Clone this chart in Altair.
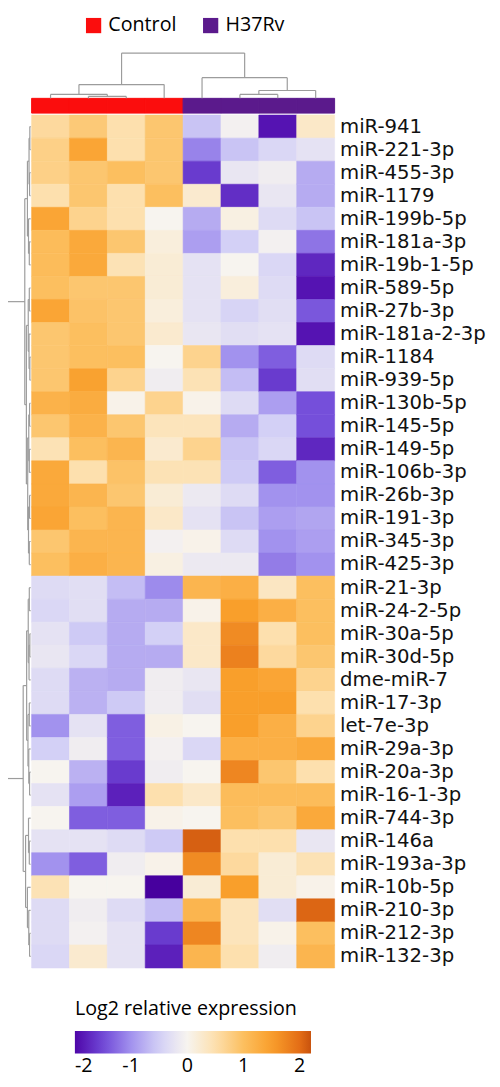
import altair as alt
import pandas as pd

# ---------------- data ----------------
samples = ["C1", "C2", "C3", "C4", "H1", "H2", "H3", "H4"]
groups = ["Control", "Control", "Control", "Control", "H37Rv", "H37Rv", "H37Rv", "H37Rv"]

mirnas = ["miR-941", "miR-221-3p", "miR-455-3p", "miR-1179", "miR-199b-5p", "miR-181a-3p",
          "miR-19b-1-5p", "miR-589-5p", "miR-27b-3p", "miR-181a-2-3p", "miR-1184", "miR-939-5p",
          "miR-130b-5p", "miR-145-5p", "miR-149-5p", "miR-106b-3p", "miR-26b-3p", "miR-191-3p",
          "miR-345-3p", "miR-425-3p", "miR-21-3p", "miR-24-2-5p", "miR-30a-5p", "miR-30d-5p",
          "dme-miR-7", "miR-17-3p", "let-7e-3p", "miR-29a-3p", "miR-20a-3p", "miR-16-1-3p",
          "miR-744-3p", "miR-146a", "miR-193a-3p", "miR-10b-5p", "miR-210-3p", "miR-212-3p",
          "miR-132-3p"]

# log2 relative expression, one array per sample (rows in the order of `mirnas`)
C1 = [0.6, 0.75, 0.75, 0.5, 1.4, 1.05, 1.05, 1.0, 1.4, 0.9, 0.9, 0.9, 1.2, 0.9, 0.45, 1.35, 1.35, 1.4, 0.9, 1.0,
      -0.35, -0.4, -0.25, -0.2, -0.35, -0.35, -1.0, -0.5, 0.0, -0.25, 0.0, -0.25, -1.0, 0.45, -0.35, -0.35, -0.4]
C2 = [0.85, 1.4, 0.9, 0.9, 0.7, 1.35, 1.35, 0.9, 0.95, 1.0, 1.0, 1.45, 1.3, 1.2, 1.0, 0.5, 1.15, 1.0, 1.15, 1.25,
      -0.3, -0.3, -0.55, -0.4, -0.75, -0.75, -0.25, -0.1, -0.75, -0.9, -1.35, -0.25, -1.35, 0.0, -0.1, -0.05, 0.25]
C3 = [0.5, 0.5, 1.0, 0.5, 0.5, 0.9, 0.45, 0.9, 0.9, 0.9, 1.0, 0.7, 0.05, 0.9, 1.15, 0.95, 0.9, 1.15, 1.15, 1.15,
      -0.65, -0.8, -0.8, -0.8, -0.8, -0.55, -1.35, -1.35, -1.6, -1.8, -1.35, -0.35, -0.1, 0.0, -0.35, -0.25, -0.25]
C4 = [0.9, 0.9, 0.9, 1.0, 0.0, 0.15, 0.2, 0.2, 0.15, 0.25, 0.0, -0.1, 0.7, 0.4, 0.25, 0.45, 0.2, 0.3, -0.05, 0.1,
      -1.05, -0.8, -0.5, -0.8, -0.1, -0.1, 0.08, -0.05, -0.1, 0.5, 0.05, -0.55, 0.05, -2.1, -0.65, -1.6, -1.8]
H1 = [-0.6, -1.1, -1.6, 0.25, -0.8, -0.9, -0.25, -0.25, -0.25, -0.2, 0.7, 0.45, 0.05, 0.4, 0.7, 0.45, -0.15, -0.25, 0.05, -0.15,
      1.15, 0.05, 0.3, 0.3, -0.2, -0.3, 0.0, -0.4, 0.0, 0.3, 0.0, 2.1, 1.7, 0.2, 1.15, 1.75, 1.15]
H2 = [-0.05, -0.6, -0.2, -1.7, 0.1, -0.5, 0.0, 0.15, -0.45, -0.3, -1.0, -0.65, -0.35, -0.8, -0.6, -0.55, -0.35, -0.6, -0.35, -0.15,
      1.25, 1.5, 1.7, 1.8, 1.5, 1.5, 1.5, 1.25, 1.75, 1.05, 1.0, 0.5, 0.6, 1.5, 0.4, 0.4, 0.5]
H3 = [-1.9, -0.4, -0.1, -0.2, -0.35, -0.05, -0.4, -0.35, -0.3, -0.25, -1.35, -1.6, -0.9, -0.5, -0.4, -1.35, -1.0, -0.9, -1.0, -1.15,
      0.35, 1.25, 0.5, 0.6, 1.4, 1.5, 1.25, 1.25, 0.9, 1.05, 0.9, 0.5, 0.2, 0.2, -0.3, 0.05, -0.1]
H4 = [0.3, -0.25, -0.8, -0.8, -0.6, -1.2, -1.75, -1.9, -1.4, -1.9, -0.35, -0.3, -1.45, -1.45, -1.75, -1.0, -1.0, -0.85, -0.9, -1.0,
      1.0, 1.0, 1.0, 0.9, 0.7, 0.5, 0.7, 1.35, 0.5, 1.05, 1.35, -0.2, 0.45, 0.05, 2.05, 1.0, 1.15]

columns = [C1, C2, C3, C4, H1, H2, H3, H4]

# dendrograms: (merge height, left, right); leaves are sample / row indices
col_tree = (46, (14, (4, 0, (2, 1, 2)), 3), (21, 4, (8, (4, 5, 6), 7)))
row_tree = (10,
            (2.2,
             (1.2, (0.6, (0.3, 0, 1), (0.4, 2, 3)), (0.8, 4, (0.5, 5, 6))),
             (1.6, (0.9, (0.5, 7, 8), (0.6, 9, (0.3, 10, 11))),
              (1.1, (0.7, (0.4, 12, 13), (0.5, 14, 15)), (0.8, (0.4, 16, 17), (0.5, 18, 19))))),
            (2.8,
             (1.5, (0.9, (0.5, 20, 21), (0.6, (0.3, 22, 23), 24)), (1.0, (0.5, 25, 26), (0.7, 27, (0.4, 28, 29)))),
             (1.9, (0.8, 30, (0.5, 31, 32)), (1.2, 33, (0.7, 34, (0.4, 35, 36))))))

# ---------------- tables ----------------
rows = []
for j, s in enumerate(samples):
    for i, m in enumerate(mirnas):
        rows.append({"sample": s, "mirna": m, "value": columns[j][i]})
heat_df = pd.DataFrame(rows)
group_df = pd.DataFrame({"sample": samples, "group": groups})


def dendro(node):
    if isinstance(node, int):
        return float(node), 0.0, []
    h, a, b = node
    pa, ha, sa = dendro(a)
    pb, hb, sb = dendro(b)
    segs = sa + sb + [
        {"p1": pa, "p2": pb, "h1": h, "h2": h},
        {"p1": pa, "p2": pa, "h1": ha, "h2": h},
        {"p1": pb, "p2": pb, "h1": hb, "h2": h},
    ]
    return (pa + pb) / 2, h, segs


col_seg = pd.DataFrame(dendro(col_tree)[2])
row_seg = pd.DataFrame(dendro(row_tree)[2])

W, H = 308, 867
FONT = "DejaVu Sans"
LEG_FONT = "Open Sans"
LINE = "#9c9c9c"

stops = [-2.0, -1.5, -1.0, -0.5, 0.0, 0.5, 1.0, 1.5, 2.0, 2.2]
stop_colors = ["#4e06a8", "#7048d8", "#a292ee", "#d3d0f6", "#f7f4ef",
               "#fde0ae", "#fcbf5f", "#f99f2b", "#e36d16", "#c8520d"]
heat_scale = alt.Scale(domain=stops, range=stop_colors, interpolate="rgb")
band = alt.Scale(paddingInner=0, paddingOuter=0)

heat = alt.Chart(heat_df).mark_rect(strokeWidth=0.6).encode(
    x=alt.X("sample:N", sort=samples, axis=None, scale=band),
    y=alt.Y("mirna:N", sort=mirnas, title=None, scale=band,
            axis=alt.Axis(orient="right", ticks=False, domain=False, labelPadding=5,
                          labelFont=FONT, labelFontSize=20, labelColor="#111111")),
    color=alt.Color("value:Q", scale=heat_scale,
                    legend=alt.Legend(orient="none", legendX=44, legendY=899,
                                      direction="horizontal", gradientLength=240,
                                      gradientThickness=23, values=[-2, -1, 0, 1, 2],
                                      title="Log2 relative expression", titleFont=LEG_FONT,
                                      titleFontSize=20, titleFontWeight="normal", titleLimit=400,
                                      titleColor="#000000", titlePadding=12,
                                      labelFont=LEG_FONT, labelFontSize=20, labelColor="#000000",
                                      labelAlign="center", labelOffset=3, labelOverlap=False,
                                      labelExpr="'' + datum.value")),
    stroke=alt.Stroke("value:Q", scale=heat_scale, legend=None),
)

group_scale = alt.Scale(domain=["Control", "H37Rv"], range=["#fb0d0d", "#5b1a8c"])
header = alt.Chart(group_df).mark_rect(strokeWidth=1).encode(
    x=alt.X("sample:N", sort=samples, axis=None, scale=band),
    y=alt.value(-17),
    y2=alt.value(-2),
    fill=alt.Fill("group:N", scale=group_scale,
                  legend=alt.Legend(orient="none", legendX=53, legendY=-101,
                                    direction="horizontal", title=None, symbolType="square",
                                    symbolSize=240, symbolStrokeWidth=0, columnPadding=24,
                                    labelFont=LEG_FONT, labelFontSize=20, labelColor="#000000",
                                    labelOffset=5)),
    stroke=alt.Stroke("group:N", scale=group_scale, legend=None),
)

col_dendro = alt.Chart(col_seg).mark_rule(color=LINE, strokeWidth=1.2).encode(
    x=alt.X("p1:Q", axis=None, scale=alt.Scale(domain=[-0.5, 7.5], nice=False, zero=False)),
    x2="p2:Q",
    y=alt.Y("h1:Q", axis=None, scale=alt.Scale(domain=[0, 46], range=[-17, -63], nice=False, zero=False)),
    y2="h2:Q",
)

row_dendro = alt.Chart(row_seg).mark_rule(color=LINE, strokeWidth=1.2).encode(
    y=alt.Y("p1:Q", axis=None, scale=alt.Scale(domain=[-0.5, 36.5], range=[0, H], nice=False, zero=False)),
    y2="p2:Q",
    x=alt.X("h1:Q", axis=None, scale=alt.Scale(domain=[0, 10], range=[-1, -28], nice=False, zero=False)),
    x2="h2:Q",
)

chart = alt.layer(heat, header, col_dendro, row_dendro).resolve_scale(
    x="independent", y="independent"
).properties(
    width=W, height=H,
    autosize=alt.AutoSizeParams(type="none"),
    padding={"left": 24, "top": 100, "right": 160, "bottom": 104},
    background="white",
).configure_view(stroke=None)

chart.save("out.html", embed_options={"renderer": "svg", "actions": False})
